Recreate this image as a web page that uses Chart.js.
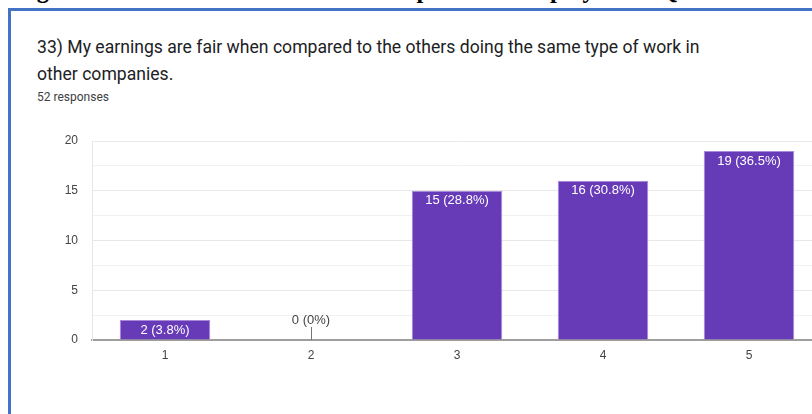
<!DOCTYPE html>
<html>
<head>
<meta charset="utf-8">
<script src="https://cdn.jsdelivr.net/npm/chart.js@4.4.1/dist/chart.umd.min.js"></script>
<style>
  html, body { margin: 0; padding: 0; background: #fff; overflow: hidden; width: 812px; height: 414px; }
  #caption {
    position: absolute; left: 15px; top: -22px; white-space: nowrap;
    font: bold 24.5px "Liberation Serif", serif; line-height: 24.5px; color: #000;
  }
  #card {
    position: absolute; left: 8px; top: 8px; width: 900px; height: 500px;
    border-top: 3px solid #4472c4; border-left: 3px solid #4472c4; background: #fff;
  }
  #title {
    position: absolute; left: 37px; top: 34px; width: 690px;
    font: 17.6px Roboto, sans-serif; line-height: 27px; color: #202124;
  }
  #count {
    position: absolute; left: 37px; top: 90px;
    font: 12px Roboto, sans-serif; color: #3c4043;
  }
  #wrap { position: absolute; left: 0; top: 0; width: 830px; height: 414px; }
</style>
</head>
<body>
<div id="caption">Figure 8 shows the bar chart of the responses of employees to Question 33</div>
<div id="card"></div>
<div id="title">33) My earnings are fair when compared to the others doing the same type of work in other companies.</div>
<div id="count">52 responses</div>
<div id="wrap"><canvas id="responsesChart"></canvas></div>

<script>
// answers on the 1-5 scale and how many people picked each
const categories = ['1', '2', '3', '4', '5'];
const responses = [2, 0, 15, 16, 19];
const yTicks = [0, 5, 10, 15, 20];

const totalResponses = responses.reduce((a, b) => a + b, 0);

function percentText(v) {
    if (v === 0) return '0%';
    return (v / totalResponses * 100).toFixed(1) + '%';
}

// writes "n (p%)" inside the top of each bar, or above the axis for empty bars
const valueLabels = {
    id: 'valueLabels',
    afterDatasetsDraw(chart) {
        const ctx = chart.ctx;
        const meta = chart.getDatasetMeta(0);
        ctx.save();
        ctx.font = '13px "Liberation Sans", Arial, sans-serif';
        ctx.textAlign = 'center';
        ctx.textBaseline = 'middle';
        meta.data.forEach((bar, i) => {
            const v = responses[i];
            const text = v + ' (' + percentText(v) + ')';
            if (v > 0) {
                ctx.fillStyle = '#ffffff';
                ctx.fillText(text, bar.x, bar.y + 10);
            } else {
                ctx.strokeStyle = '#757575';
                ctx.lineWidth = 1;
                ctx.beginPath();
                ctx.moveTo(Math.round(bar.x) + 0.5, bar.base);
                ctx.lineTo(Math.round(bar.x) + 0.5, bar.base - 13);
                ctx.stroke();
                ctx.fillStyle = '#444444';
                ctx.fillText(text, bar.x, bar.base - 20);
            }
        });
        ctx.restore();
    }
};

const canvas = document.getElementById('responsesChart');
new Chart(canvas, {
    type: 'bar',
    data: {
        labels: categories,
        datasets: [{
            data: responses,
            backgroundColor: '#673ab7',
            borderColor: '#a98ad9',
            borderWidth: 1,
            borderSkipped: 'bottom',
            barPercentage: 0.62,
            categoryPercentage: 1.0
        }]
    },
    options: {
        responsive: true,
        maintainAspectRatio: false,
        animation: false,
        layout: { padding: { top: 141, right: 8, bottom: 0, left: 0 } },
        plugins: {
            legend: { display: false },
            tooltip: { enabled: false }
        },
        scales: {
            x: {
                grid: { display: true, color: 'rgba(0,0,0,0)', drawTicks: false },
                border: { display: true, color: '#9e9e9e', width: 2 },
                ticks: { color: '#444444', font: { family: '"Liberation Sans", Arial', size: 12 }, padding: 8 },
                afterFit(scale) { scale.height = 74; }
            },
            y: {
                min: 0,
                max: 20,
                grid: {
                    drawTicks: false,
                    color: (c) => (c.tick && c.tick.value % 5 === 0) ? '#e8e8e8' : '#f2f2f2'
                },
                border: { display: true, color: '#e6e6e6', width: 1 },
                ticks: {
                    stepSize: 2.5,
                    padding: 14,
                    color: '#444444',
                    font: { family: '"Liberation Sans", Arial', size: 12 },
                    callback: (v) => yTicks.includes(v) ? String(v) : ''
                },
                afterFit(scale) { scale.width = 92; }
            }
        }
    },
    plugins: [valueLabels]
});
</script>
</body>
</html>
